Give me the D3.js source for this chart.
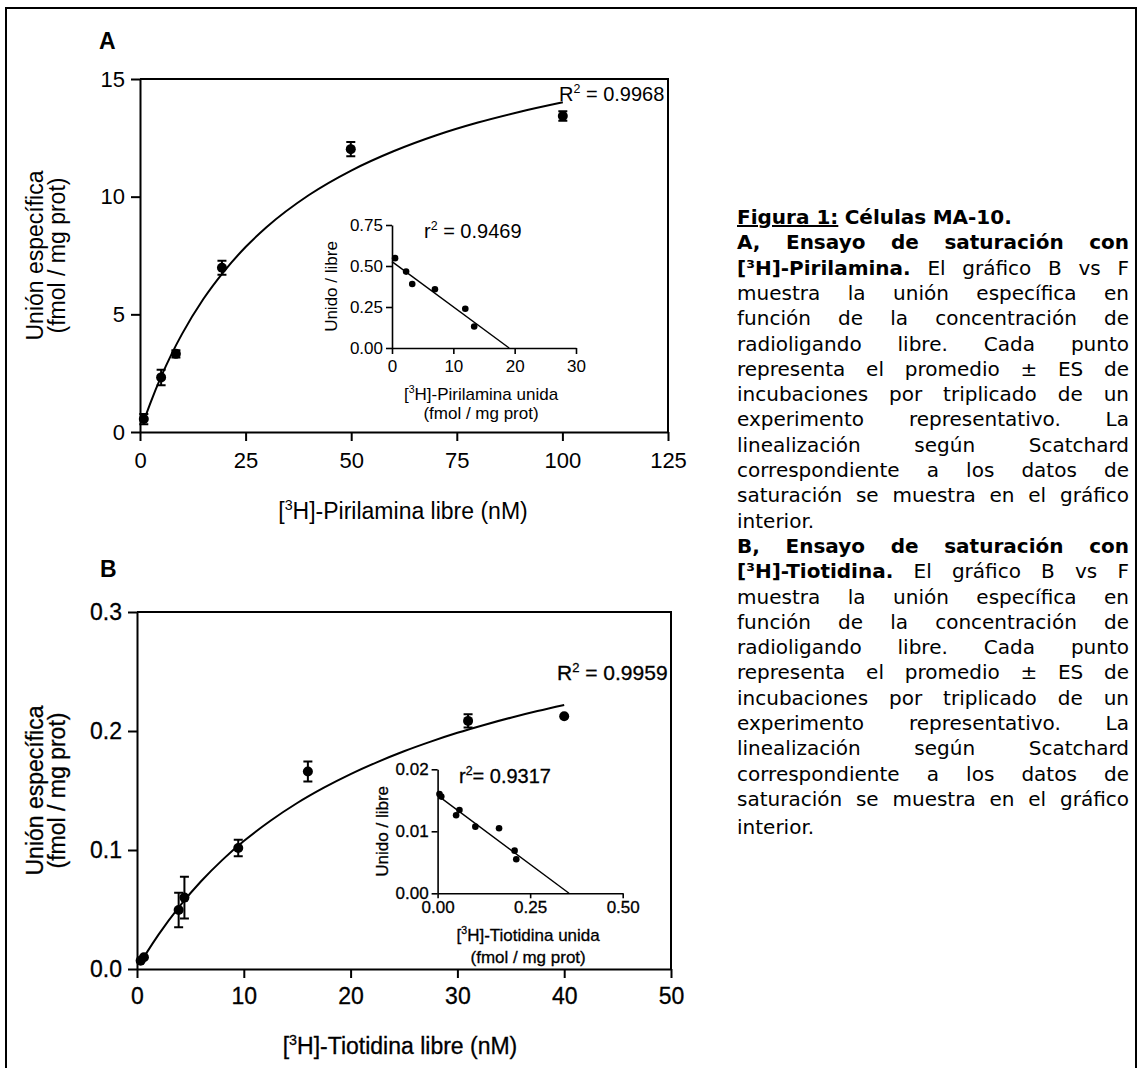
<!DOCTYPE html>
<html><head><meta charset="utf-8">
<script src="https://cdn.jsdelivr.net/npm/d3@7"></script>
<style>body{margin:0;background:#fff}svg{display:block}</style>
</head><body>
<svg id="c" width="1141" height="1068"></svg>
<script>
// ---------- DATA ----------
// Panel A: [3H]-Pirilamina saturation
const xTicksA = [0, 25, 50, 75, 100, 125];
const yTicksA = [0, 5, 10, 15];
const freeA  = [0.9, 5.0, 8.5, 19.4, 49.9, 100.1];
const boundA = [0.55, 2.32, 3.32, 6.98, 12.02, 13.43];
const semA   = [0.22, 0.33, 0.15, 0.30, 0.30, 0.20];
const fitFreeA  = [0.9, 2.5, 5, 7.5, 10, 15, 20, 25, 30, 40, 50, 60, 70, 80, 90, 100.1];
const fitBoundA = [0.47, 1.25, 2.35, 3.32, 4.18, 5.65, 6.85, 7.86, 8.71, 10.07, 11.11, 11.93, 12.60, 13.15, 13.61, 14.01];
const r2LabelA = "0.9968";
// Inset A: Scatchard
const xTicksIA = [0, 10, 20, 30];
const yTicksIA = [0, 0.25, 0.5, 0.75];
const scatBoundA = [0.5, 2.3, 3.3, 7.0, 11.95, 13.4];
const scatRatioA = [0.548, 0.466, 0.390, 0.358, 0.239, 0.131];
const scatLineXA = [0, 19.1];
const scatLineYA = [0.527, 0];
const r2LabelIA = "0.9469";

// Panel B: [3H]-Tiotidina saturation
const xTicksB = [0, 10, 20, 30, 40, 50];
const yTicksB = [0, 0.1, 0.2, 0.3];
const freeB  = [0.34, 0.65, 3.9, 4.44, 9.48, 16.0, 31.0, 40.0];
const boundB = [0.007, 0.0099, 0.0496, 0.060, 0.1017, 0.166, 0.2085, 0.2124];
const semB   = [0, 0, 0.0145, 0.0176, 0.007, 0.0084, 0.0056, 0];
const fitFreeB  = [0.34, 1, 2, 4, 6, 8, 10, 12.5, 15, 17.5, 20, 22.5, 25, 27.5, 30, 32.5, 35, 37.5, 40];
const fitBoundB = [0.0052, 0.0150, 0.0287, 0.0529, 0.0737, 0.0917, 0.1075, 0.1246, 0.1395, 0.1524, 0.1638, 0.1739, 0.1830, 0.1911, 0.1985, 0.2051, 0.2112, 0.2168, 0.2219];
const r2LabelB = "0.9959";
// Inset B: Scatchard
const xTicksIB = [0, 0.25, 0.5];
const yTicksIB = [0, 0.01, 0.02];
const scatBoundB = [0.005, 0.010, 0.059, 0.050, 0.102, 0.166, 0.208, 0.2125];
const scatRatioB = [0.0160, 0.0156, 0.01344, 0.01258, 0.01075, 0.01048, 0.00688, 0.00548];
const scatLineXB = [0, 0.355];
const scatLineYB = [0.0158, 0];
const r2LabelIB = "0.9317";

// Caption (** toggles bold, __ marks underlined bold token)
const captionTitle = ["__Figura 1:__", "**Células MA-10.**"];
const captionA = [
  "**A, Ensayo de saturación con**",
  "**[³H]-Pirilamina.** El gráfico B vs F",
  "muestra la unión específica en",
  "función de la concentración de",
  "radioligando libre. Cada punto",
  "representa el promedio ± ES de",
  "incubaciones por triplicado de un",
  "experimento representativo. La",
  "linealización según Scatchard",
  "correspondiente a los datos de",
  "saturación se muestra en el gráfico",
  "interior."
];
const captionB = [
  "**B, Ensayo de saturación con**",
  "**[³H]-Tiotidina.** El gráfico B vs F",
  "muestra la unión específica en",
  "función de la concentración de",
  "radioligando libre. Cada punto",
  "representa el promedio ± ES de",
  "incubaciones por triplicado de un",
  "experimento representativo. La",
  "linealización según Scatchard",
  "correspondiente a los datos de",
  "saturación se muestra en el gráfico",
  "interior."
];

// ---------- DRAWING ----------
const FONT = "'Liberation Sans', Arial, Helvetica, sans-serif";
const svg = d3.select("#c");
svg.append("rect").attr("width", 1141).attr("height", 1068).attr("fill", "#fff");
svg.append("rect").attr("x", 6).attr("y", 8).attr("width", 1130).attr("height", 1080)
  .attr("fill", "none").attr("stroke", "#000").attr("stroke-width", 2);

function styleAxis(g, fs, sw, heavy) {
  g.selectAll(".domain").attr("stroke", "#000").attr("stroke-width", sw);
  g.selectAll(".tick line").attr("stroke", "#000").attr("stroke-width", sw);
  g.selectAll(".tick text").attr("fill", "#000").attr("font-size", fs).attr("font-family", FONT)
    .attr("stroke", heavy ? "#000" : null).attr("stroke-width", heavy ? heavy : null);
}
function supLabel(sel, pre, sup, post, fs) {
  sel.append("tspan").text(pre);
  sel.append("tspan").attr("dy", -fs * 0.4).attr("font-size", fs * 0.62).text(sup);
  sel.append("tspan").attr("dy", fs * 0.4).text(post);
}
function txt(g, heavy) {
  const t = g.append("text").attr("font-family", FONT).attr("fill", "#000");
  if (heavy) t.attr("stroke", "#000").attr("stroke-width", heavy);
  return t;
}

function mainPanel(o) {
  const g = svg.append("g");
  const x = d3.scaleLinear().domain(o.xDomain).range(o.xRange);
  const y = d3.scaleLinear().domain(o.yDomain).range(o.yRange);
  g.append("path").attr("d", `M${x.range()[0]},${y.range()[1]}H${x.range()[1]}V${y.range()[0]}`)
    .attr("fill", "none").attr("stroke", "#000").attr("stroke-width", 2);
  const ax = g.append("g").attr("transform", `translate(0,${y.range()[0]})`)
    .call(d3.axisBottom(x).tickValues(o.xTicks).tickSize(9).tickPadding(o.xPad).tickSizeOuter(0).tickFormat(o.xFmt));
  styleAxis(ax, o.tickFs, 2, o.heavy);
  const ay = g.append("g").attr("transform", `translate(${x.range()[0]},0)`)
    .call(d3.axisLeft(y).tickValues(o.yTicks).tickSize(9).tickPadding(6).tickSizeOuter(0).tickFormat(o.yFmt));
  styleAxis(ay, o.tickFs, 2, o.heavy);
  const pts = o.fitX.map((v, i) => [v, o.fitY[i]]);
  g.append("path").datum(pts)
    .attr("d", d3.line().x(d => x(d[0])).y(d => y(d[1])).curve(d3.curveMonotoneX))
    .attr("fill", "none").attr("stroke", "#000").attr("stroke-width", 2);
  o.px.forEach((v, i) => {
    const cx = x(v), s = o.sem[i];
    if (s > 0) {
      const y1 = y(o.py[i] - s), y2 = y(o.py[i] + s);
      g.append("path").attr("d", `M${cx},${y1}V${y2}M${cx - 4.5},${y1}H${cx + 4.5}M${cx - 4.5},${y2}H${cx + 4.5}`)
        .attr("stroke", "#000").attr("stroke-width", 2).attr("fill", "none");
    }
    g.append("circle").attr("cx", cx).attr("cy", y(o.py[i])).attr("r", 5).attr("fill", "#000");
  });
  const t = txt(g, o.heavy).attr("x", o.r2x).attr("y", o.r2y).attr("font-size", o.r2fs);
  supLabel(t, "R", "2", " = " + o.r2, o.r2fs);
  const xt = txt(g, o.heavy).attr("x", o.xtX).attr("y", o.xtY).attr("text-anchor", "middle").attr("font-size", o.titleFs);
  supLabel(xt, "[", "3", o.xTitle, o.titleFs);
  const cy = (y.range()[0] + y.range()[1]) / 2;
  txt(g, o.heavy).attr("transform", `translate(${o.ytX1},${cy}) rotate(-90)`).attr("text-anchor", "middle")
    .attr("font-size", o.titleFs).text("Unión específica");
  txt(g, o.heavy).attr("transform", `translate(${o.ytX2},${cy}) rotate(-90)`).attr("text-anchor", "middle")
    .attr("font-size", o.titleFs).text("(fmol / mg prot)");
  txt(g, 0).attr("x", o.letterX).attr("y", o.letterY)
    .attr("font-weight", "bold").attr("font-size", 23).text(o.letter);
}

function insetPanel(o) {
  const g = svg.append("g");
  const x = d3.scaleLinear().domain(o.xDomain).range(o.xRange);
  const y = d3.scaleLinear().domain(o.yDomain).range(o.yRange);
  const ax = g.append("g").attr("transform", `translate(0,${y.range()[0]})`)
    .call(d3.axisBottom(x).tickValues(o.xTicks).tickSize(o.xTick).tickPadding(o.xPad).tickSizeOuter(0).tickFormat(o.xFmt));
  styleAxis(ax, o.tickFs, 1.6, o.heavy);
  const ay = g.append("g").attr("transform", `translate(${x.range()[0]},0)`)
    .call(d3.axisLeft(y).tickValues(o.yTicks).tickSize(6).tickPadding(o.yPad).tickSizeOuter(0).tickFormat(o.yFmt));
  styleAxis(ay, o.tickFs, 1.6, o.heavy);
  g.append("line").attr("x1", x(o.lx[0])).attr("y1", y(o.ly[0])).attr("x2", x(o.lx[1])).attr("y2", y(o.ly[1]))
    .attr("stroke", "#000").attr("stroke-width", 1.4);
  o.px.forEach((v, i) => {
    g.append("circle").attr("cx", x(v)).attr("cy", y(o.py[i])).attr("r", 3.3).attr("fill", "#000");
  });
  const t = txt(g, o.heavy).attr("x", o.r2x).attr("y", o.r2y).attr("font-size", o.r2fs);
  supLabel(t, "r", "2", o.r2sep + o.r2, o.r2fs);
  const cx = (x.range()[0] + x.range()[1]) / 2 + o.xtShift;
  const xt = txt(g, o.heavy).attr("x", cx).attr("y", o.xtY1).attr("text-anchor", "middle").attr("font-size", o.titleFs);
  supLabel(xt, "[", "3", o.xTitle, o.titleFs);
  txt(g, o.heavy).attr("x", cx).attr("y", o.xtY2).attr("text-anchor", "middle")
    .attr("font-size", o.titleFs).text("(fmol / mg prot)");
  const cy = (y.range()[0] + y.range()[1]) / 2;
  txt(g, o.heavy).attr("transform", `translate(${o.ytX},${cy}) rotate(-90)`).attr("text-anchor", "middle")
    .attr("font-size", o.titleFs).text("Unido / libre");
}

mainPanel({
  xDomain: [0, 125], xRange: [140, 668], yDomain: [0, 15], yRange: [432, 79],
  xTicks: xTicksA, yTicks: yTicksA, xFmt: d3.format("d"), yFmt: d3.format("d"),
  xPad: 11, tickFs: 22, px: freeA, py: boundA, sem: semA, fitX: fitFreeA, fitY: fitBoundA,
  r2: r2LabelA, r2x: 559, r2y: 101, r2fs: 20,
  xTitle: "H]-Pirilamina libre (nM)", xtX: 403, xtY: 519, titleFs: 23,
  ytX1: 43, ytX2: 65, letter: "A", letterX: 99, letterY: 49, heavy: 0
});
insetPanel({
  xDomain: [0, 30], xRange: [392, 576], yDomain: [0, 0.75], yRange: [348, 225],
  xTicks: xTicksIA, yTicks: yTicksIA, xFmt: d3.format("d"), yFmt: d3.format(".2f"),
  xTick: 6, xPad: 6, yPad: 3, tickFs: 17,
  px: scatBoundA, py: scatRatioA, lx: scatLineXA, ly: scatLineYA,
  r2: r2LabelIA, r2sep: " = ", r2x: 424, r2y: 238, r2fs: 20,
  xTitle: "H]-Pirilamina unida", xtShift: -3, xtY1: 400, xtY2: 419, titleFs: 17, ytX: 337, heavy: 0
});
mainPanel({
  xDomain: [0, 50], xRange: [137, 671], yDomain: [0, 0.3], yRange: [969, 612],
  xTicks: xTicksB, yTicks: yTicksB, xFmt: d3.format("d"), yFmt: d3.format(".1f"),
  xPad: 10, tickFs: 23, px: freeB, py: boundB, sem: semB, fitX: fitFreeB, fitY: fitBoundB,
  r2: r2LabelB, r2x: 557, r2y: 680, r2fs: 21,
  xTitle: "H]-Tiotidina libre (nM)", xtX: 400, xtY: 1054, titleFs: 23,
  ytX1: 43, ytX2: 65, letter: "B", letterX: 100, letterY: 577, heavy: 0.3
});
insetPanel({
  xDomain: [0, 0.5], xRange: [437.6, 622.7], yDomain: [0, 0.02], yRange: [893.3, 769.3],
  xTicks: xTicksIB, yTicks: yTicksIB, xFmt: d3.format(".2f"), yFmt: d3.format(".2f"),
  xTick: 5, xPad: 3, yPad: 3, tickFs: 17,
  px: scatBoundB, py: scatRatioB, lx: scatLineXB, ly: scatLineYB,
  r2: r2LabelIB, r2sep: "= ", r2x: 459, r2y: 783, r2fs: 20,
  xTitle: "H]-Tiotidina unida", xtShift: -2, xtY1: 941, xtY2: 963, titleFs: 17, ytX: 388, heavy: 0.3
});

// ---------- CAPTION ----------
const CAP = { x0: 737, x1: 1129, y0: 224, step: 25.3, fs: 20, font: "'DejaVu Sans', Verdana, sans-serif" };
const capG = svg.append("g").attr("font-family", CAP.font).attr("font-size", CAP.fs).attr("fill", "#000");
function parseLine(s) {
  const toks = [];
  let bold = false;
  s.split(/(\*\*|__[^_]+__)/).forEach(part => {
    if (part === "**") { bold = !bold; return; }
    if (!part) return;
    if (part.startsWith("__")) { toks.push({ t: part.slice(2, -2), b: true, u: true }); return; }
    part.split(" ").filter(w => w.length).forEach(w => toks.push({ t: w, b: bold, u: false }));
  });
  return toks;
}
const spaceW = (() => { const t = capG.append("text").text("a a"); const w3 = t.node().getComputedTextLength();
  t.text("aa"); const w2 = t.node().getComputedTextLength(); t.remove(); return w3 - w2; })();
function drawCapLine(s, y, justify) {
  const toks = parseLine(s);
  const nodes = toks.map(k => capG.append("text").attr("y", y)
    .attr("font-weight", k.b ? "bold" : "normal")
    .attr("text-decoration", k.u ? "underline" : null).text(k.t));
  const widths = nodes.map(n => n.node().getComputedTextLength());
  const total = d3.sum(widths);
  const gap = (justify && toks.length > 1) ? (CAP.x1 - CAP.x0 - total) / (toks.length - 1) : spaceW;
  let x = CAP.x0;
  nodes.forEach((n, i) => { n.attr("x", x); x += widths[i] + gap; });
}
let yy = CAP.y0;
drawCapLine(captionTitle.join(" "), yy, false);
[captionA, captionB].forEach(par => {
  par.forEach((line, i) => {
    yy += CAP.step;
    const last = i === par.length - 1;
    drawCapLine(line, yy + (last && par === captionB ? 3 : 0), !last);
  });
});
</script>
</body></html>
